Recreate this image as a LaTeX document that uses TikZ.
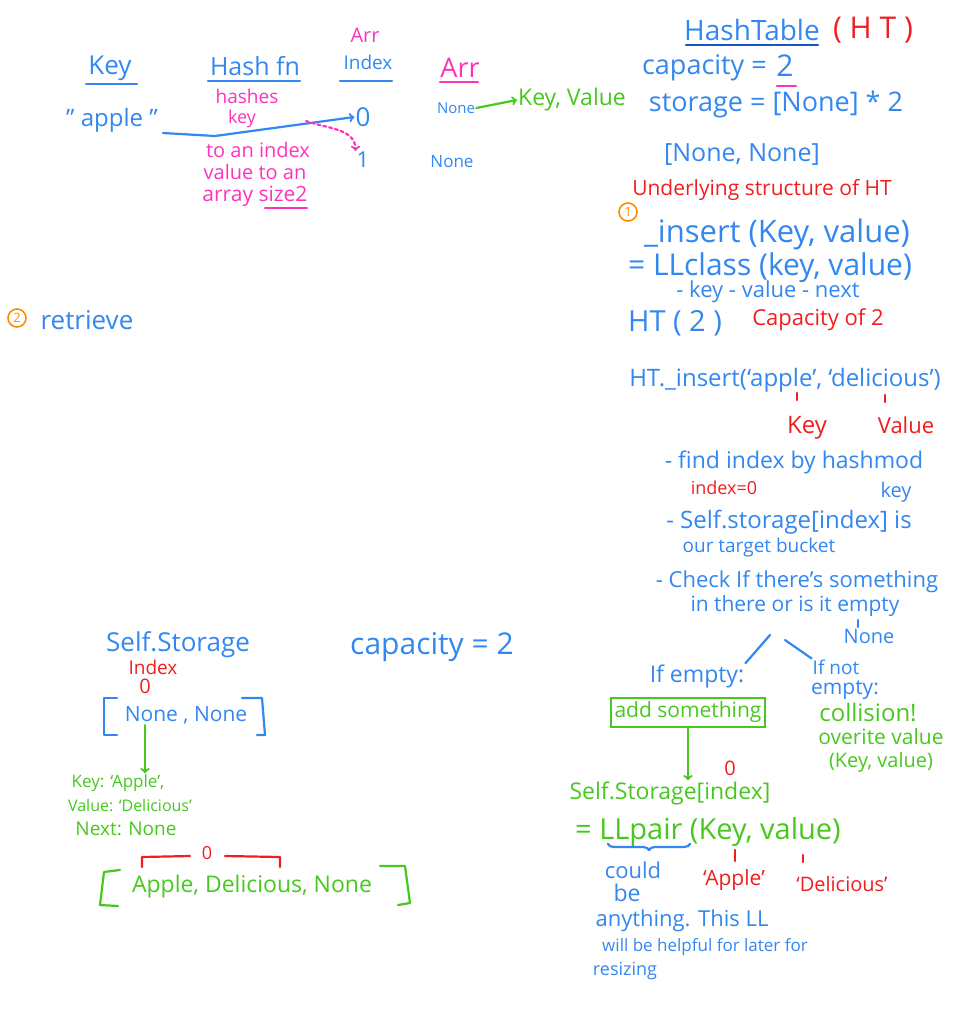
\documentclass[tikz,border=0pt]{standalone}
\usepackage{fontspec}
\setmainfont{Open Sans}
\usetikzlibrary{decorations.pathreplacing}
\definecolor{hblue}{RGB}{50,135,240}
\definecolor{hdark}{RGB}{25,85,200}
\definecolor{hpink}{RGB}{255,50,190}
\definecolor{hgreen}{RGB}{70,200,30}
\definecolor{hred}{RGB}{240,30,30}
\definecolor{horange}{RGB}{255,140,0}
\newcommand{\fsz}[1]{\fontsize{#1}{#1}\selectfont}
\tikzset{
  pen/.style={line width=2.2pt, line cap=round, line join=round},
  bl/.style={text=hblue, inner sep=1pt, font=\fsz{#1}},
  pk/.style={text=hpink, inner sep=1pt, font=\fsz{#1}},
  gr/.style={text=hgreen, inner sep=1pt, font=\fsz{#1}},
  rd/.style={text=hred, inner sep=1pt, font=\fsz{#1}},
  num/.style={circle, draw=horange, line width=1.6pt, text=horange, inner sep=1pt, minimum size=18pt, font=\fsz{13}},
}
\begin{document}
\begin{tikzpicture}[x=1pt,y=-1pt]
	\useasboundingbox (0,0) rectangle (957,1013);

	% Hash fn
	\node[bl=26] (key) at (110,68) {Key};
	\node[bl=25] (hfn) at (255,66) {Hash fn};
	\node[pk=20] (arrtop) at (365,35) {Arr};
	\node[bl=19] (idx) at (368,62) {Index};
	\node[pk=27] (arr) at (460,68) {Arr};
	\draw[pen,hblue] (86,84) -- (137,84);
	\draw[pen,hblue] (208,81) -- (300,81);
	\draw[pen,hblue] (340,81) -- (392,81);
	\draw[pen,hpink] (440,82) -- (478,82);

	\node[bl=24] (apple) at (112,120) {" apple "};
	\node[pk=19] (hashes) at (247,96) {hashes};
	\node[pk=18] (hkey) at (242,119) {key};
	\node[bl=26] (zero) at (363,117) {0};
	\node[bl=22] (one) at (363,160) {1};
	\coordinate (hstart) at (163,133);
	\coordinate (hk) at (215,136);
	\draw[pen,hblue,->] (hstart) -- (hk) -- (zero.west);
	\coordinate (dots) at (306,121);
	\draw[pen,hpink,dashed,->] (dots) to[out=-20,in=90] (one.north west);

	\node[pk=20] (toidx) at (258,150) {to an index};
	\node[pk=20] (valto) at (255,172) {value to an};
	\node[pk=21] (asize) at (255,196) {array size2};
	\draw[pen,hpink] (265,208) -- (307,208);

	\node[bl=15] (none1) at (456,108) {None};
	\node[bl=17] (none2) at (452,162) {None};
	\node[gr=23] (kv) at (572,100) {Key, Value};
	\draw[pen,hgreen,->] (none1.east) -- (kv.west);

	% HashTable
	\node[bl=28] (ht) at (752,30) {HashTable};
	\node[rd=30] (htabbr) at (873,30) {( H T )};
	\draw[pen,hdark] (686,45) -- (818,45);
	\node[bl=27, anchor=east] (cap) at (768,68) {capacity =};
	\node[bl=30] (captwo) at (785,66) {2};
	\draw[pen,hpink] (777,86) -- (796,86);
	\node[bl=27] (stor) at (776,104) {storage = [None] * 2};
	\node[bl=25] (nn) at (742,155) {[None, None]};
	\node[rd=21] (under) at (762,190) {Underlying structure of HT};

	\node[num] (n1) at (628,212) {1};
	\node[bl=31] (ins) at (777,234) {\_insert (Key, value)};
	\node[bl=30] (llc) at (770,268) {= LLclass (key, value)};
	\node[bl=22] (kvn) at (768,292) {- key - value - next};
	\node[bl=29] (ht2) at (675,323) {HT ( 2 )};
	\node[rd=22] (cap2) at (818,320) {Capacity of 2};
	\node[bl=24] (htins) at (785,380) {HT.\_insert(`apple', `delicious')};
	\node[rd=24] (rkey) at (807,428) {Key};
	\node[rd=22] (rval) at (906,425) {Value};
	\draw[pen,hred] (797,393) -- (797,400);
	\draw[pen,hred] (885,395) -- (885,402);

	\node[bl=23] (find) at (794,462) {- find index by hashmod};
	\node[bl=20] (fkey) at (896,492) {key};
	\node[rd=18] (idx0) at (724,488) {index=0};
	\node[bl=24] (self) at (789,522) {- Self.storage[index] is};
	\node[bl=19] (bucket) at (759,548) {our target bucket};
	\node[bl=22] (check) at (797,582) {- Check If there's something};
	\node[bl=21] (inthere) at (795,606) {in there or is it empty};
	\node[bl=20] (nonea) at (869,636) {None};
	\draw[pen,hblue] (858,620) -- (858,627);

	% if empty / if not empty
	\coordinate (br) at (770,635);
	\coordinate (bl) at (785,640);
	\node[bl=23] (ife) at (697,676) {If empty:};
	\node[bl=19] (ifn) at (836,667) {If not};
	\node[bl=21] (ifne) at (845,690) {empty:};
	\draw[pen,hblue] (br) -- (ife.north east);
	\draw[pen,hblue] (bl) -- (ifn.north west);
	\node[gr=21, draw=hgreen, line width=2pt, inner sep=4pt] (add) at (688,712) {add something};
	\node[gr=24] (coll) at (868,713) {collision!};
	\node[gr=21] (over) at (881,737) {overite value};
	\node[gr=20] (okv) at (881,762) {(Key, value)};

	\node[rd=20] (szero) at (730,768) {0};
	\node[gr=23] (store) at (670,793) {Self.Storage[index]};
	\draw[pen,hgreen,->] (add.south) -- (add.south |- store.north);
	\node[gr=29] (llp) at (708,832) {= LLpair (Key, value)};
	\draw[pen,hblue,decorate,decoration={brace,mirror,amplitude=6pt}] (608,844) -- (690,844);
	\node[bl=22] (could) at (633,870) {could};
	\node[bl=23] (be) at (627,893) {be};
	\node[bl=22] (anyth) at (682,921) {anything. This LL};
	\node[bl=17] (helpful) at (705,947) {will be helpful for later for};
	\node[bl=18] (resz) at (625,971) {resizing};
	\draw[pen,hred] (735,850) -- (735,861);
	\draw[pen,hred] (803,855) -- (803,862);
	\node[rd=21] (rapple) at (734,880) {`Apple'};
	\node[rd=20] (rdel) at (842,884) {`Delicious'};

	% Self.Storage
	\node[bl=26] (sst) at (178,645) {Self.Storage};
	\node[bl=30] (capb) at (432,647) {capacity = 2};
	\node[rd=19] (bidx) at (153,667) {Index};
	\node[rd=20] (bidx0) at (145,686) {0};
	\node[bl=21] (bnone) at (186,715) {None , None};
	\draw[pen,hblue] (117,698) -- (104,698) -- (104,735) -- (117,735);
	\draw[pen,hblue] (242,698) -- (262,698) -- (265,735) -- (257,735);
	\node[gr=17] (kva) at (118,783) {Key: `Apple',};
	\node[gr=16] (kvb) at (130,806) {Value: `Delicious'};
	\node[gr=19] (kvc) at (126,829) {Next: None};
	\draw[pen,hgreen,->] (bnone.south -| bidx0) -- (kva.north -| bidx0);

	\node[rd=18] (tzero) at (207,853) {0};
	\draw[pen,hred] (142,867) -- (142,857) -- (190,856);
	\draw[pen,hred] (225,856) -- (280,857) -- (280,867);
	\node[gr=23] (adn) at (252,887) {Apple, Delicious, None};
	\draw[pen,hgreen] (120,870) -- (104,872) -- (100,905) -- (118,906);
	\draw[pen,hgreen] (380,866) -- (405,866) -- (410,903) -- (398,905);

	% retrieve
	\node[num] (n2) at (17,318) {2};
	\node[bl=26] (retr) at (87,320) {retrieve};
\end{tikzpicture}
\end{document}
